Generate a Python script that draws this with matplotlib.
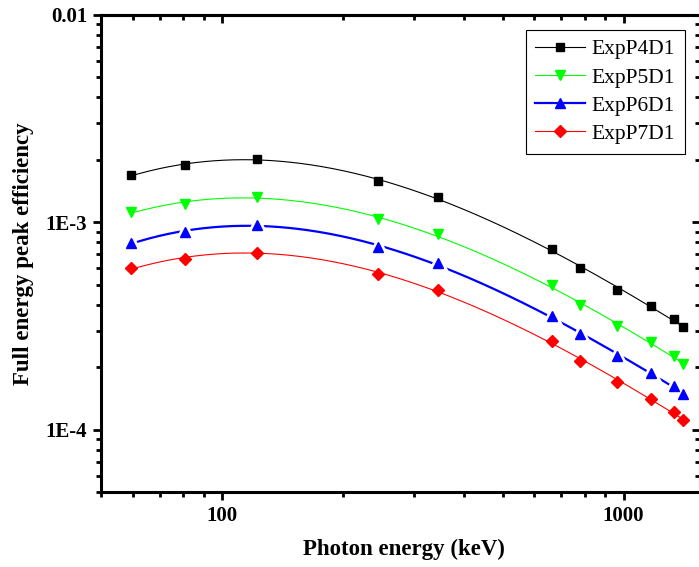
import numpy as np
import matplotlib
matplotlib.use('Agg')
import matplotlib.pyplot as plt
from matplotlib.ticker import FixedLocator, LogLocator, NullFormatter

plt.rcParams['font.family'] = ['Liberation Serif', 'DejaVu Serif']
plt.rcParams['mathtext.fontset'] = 'stix'

# photon energies (keV)
energy = [59.5, 81.0, 122.1, 244.7, 344.3, 661.7, 778.9, 964.1, 1173.2, 1332.5, 1408.0]

# measured full energy peak efficiencies
exp_p4d1 = [1.69e-3, 1.88e-3, 2.02e-3, 1.585e-3, 1.32e-3, 7.45e-4, 6.03e-4, 4.74e-4, 3.93e-4, 3.42e-4, 3.11e-4]
exp_p5d1 = [1.12e-3, 1.228e-3, 1.322e-3, 1.04e-3, 8.77e-4, 4.96e-4, 4.0e-4, 3.146e-4, 2.635e-4, 2.273e-4, 2.073e-4]
exp_p6d1 = [7.94e-4, 8.97e-4, 9.72e-4, 7.59e-4, 6.36e-4, 3.52e-4, 2.89e-4, 2.273e-4, 1.876e-4, 1.63e-4, 1.486e-4]
exp_p7d1 = [5.99e-4, 6.67e-4, 7.15e-4, 5.65e-4, 4.73e-4, 2.665e-4, 2.15e-4, 1.70e-4, 1.406e-4, 1.217e-4, 1.113e-4]

labels = ['ExpP4D1', 'ExpP5D1', 'ExpP6D1', 'ExpP7D1']
colors = ['black', '#00ff00', '#0000ff', '#ff0000']
markers = ['s', 'v', '^', 'D']
msizes = [6, 7.5, 7.5, 6]
lwidths = [0.8, 0.8, 1.6, 0.8]


def fit_curve(x, y, deg=3):
    # polynomial fit in log-log space, like the usual efficiency calibration
    lx = np.log10(x)
    p = np.polyfit(lx, np.log10(y), deg)
    xs = np.logspace(lx.min(), lx.max(), 300)
    return xs, 10 ** np.polyval(p, np.log10(xs))


fig = plt.figure(figsize=(6.99, 5.67), dpi=100)
ax = fig.add_axes([101 / 699, 1 - 492 / 567, 599 / 699, 477 / 567])

x = np.array(energy)
series = [exp_p4d1, exp_p5d1, exp_p6d1, exp_p7d1]
for vals, lab, c, m, ms, lw in zip(series, labels, colors, markers, msizes, lwidths):
    y = np.array(vals)
    xs, ys = fit_curve(x, y)
    ax.plot(xs, ys, color=c, lw=lw, zorder=2)
    if lab == 'ExpP6D1':
        # gap between line and symbol
        ax.plot(x, y, ls='none', marker=m, ms=ms + 9, color='white', mec='white', zorder=3)
    ax.plot(x, y, ls='none', marker=m, ms=ms, color=c, mec=c, zorder=4)
    ax.plot([], [], color=c, lw=lw, marker=m, ms=ms, mec=c, label=lab)

ax.set_xscale('log')
ax.set_yscale('log')
ax.set_xlim(50, 1550)
ax.set_ylim(5e-5, 0.01)

ax.yaxis.set_major_locator(FixedLocator([1e-4, 1e-3, 1e-2]))
ax.set_yticklabels(['1E-4', '1E-3', '0.01'])
ax.yaxis.set_minor_locator(LogLocator(base=10, subs=np.arange(2, 10)))
ax.yaxis.set_minor_formatter(NullFormatter())
ax.xaxis.set_major_locator(FixedLocator([100, 1000]))
ax.set_xticklabels(['100', '1000'])
ax.xaxis.set_minor_locator(LogLocator(base=10, subs=np.arange(2, 10)))
ax.xaxis.set_minor_formatter(NullFormatter())

for s in ax.spines.values():
    s.set_linewidth(2.2)

ax.tick_params(which='major', direction='out', length=6, width=2, pad=4, labelsize=15)
ax.tick_params(which='minor', direction='out', length=3.5, width=2)
for lbl in ax.get_xticklabels() + ax.get_yticklabels():
    lbl.set_fontweight('bold')

# top and right axes with inward ticks
top = ax.secondary_xaxis('top', functions=(lambda v: v, lambda v: v))
top.set_xscale('log')
top.xaxis.set_major_locator(FixedLocator([100, 1000]))
top.xaxis.set_minor_locator(LogLocator(base=10, subs=np.arange(2, 10)))
top.tick_params(which='major', direction='in', length=6, width=2, labeltop=False)
top.tick_params(which='minor', direction='in', length=3.5, width=2)
top.xaxis.set_major_formatter(NullFormatter())
top.xaxis.set_minor_formatter(NullFormatter())
top.spines['top'].set_linewidth(2.2)

right = ax.secondary_yaxis('right', functions=(lambda v: v, lambda v: v))
right.set_yscale('log')
right.yaxis.set_major_locator(FixedLocator([1e-4, 1e-3, 1e-2]))
right.yaxis.set_minor_locator(LogLocator(base=10, subs=np.arange(2, 10)))
right.tick_params(which='major', direction='in', length=6, width=2, labelright=False)
right.tick_params(which='minor', direction='in', length=3.5, width=2)
right.yaxis.set_major_formatter(NullFormatter())
right.yaxis.set_minor_formatter(NullFormatter())
right.spines['right'].set_linewidth(2.2)

ax.set_xlabel('Photon energy (keV)', fontsize=16.5, fontweight='bold')
ax.set_ylabel('Full energy peak efficiency', fontsize=16.5, fontweight='bold')
ax.xaxis.set_label_coords(0.506, -0.098)
ax.yaxis.set_label_coords(-0.112, 0.5)

leg = ax.legend(loc='upper right', bbox_to_anchor=(684.5 / 699, 1 - 29.5 / 567),
                bbox_transform=fig.transFigure, borderaxespad=0, fontsize=15.5,
                fancybox=False, edgecolor='black', framealpha=1,
                handlelength=2.3, handletextpad=0.3, labelspacing=0.38, borderpad=0.45)
leg.get_frame().set_linewidth(0.8)

fig.savefig('out.png', dpi=100)
